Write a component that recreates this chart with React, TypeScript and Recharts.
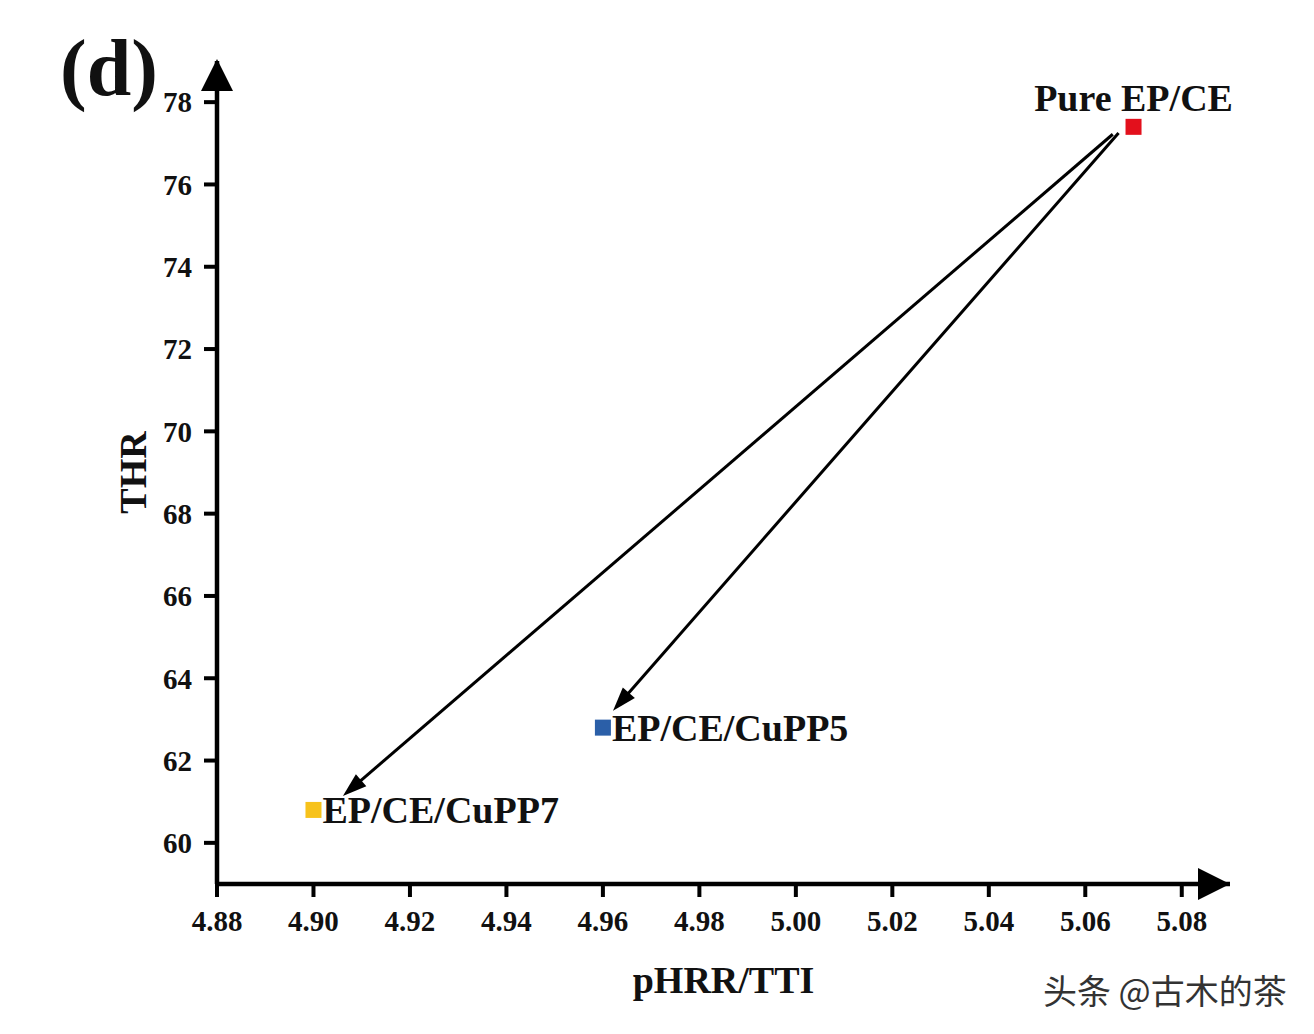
import React from "react";
import {
  Label,
  LabelList,
  ReferenceLine,
  Scatter,
  ScatterChart,
  XAxis,
  YAxis,
} from "recharts";

// sample points (pHRR/TTI vs THR)
const sampleNames = ["Pure EP/CE", "EP/CE/CuPP5", "EP/CE/CuPP7"];
const sampleX = [5.07, 4.96, 4.9];
const sampleY = [77.4, 62.8, 60.8];
const sampleColors = ["#e3101c", "#2b5fa8", "#f7c21b"];

const xTicks = [4.88, 4.9, 4.92, 4.94, 4.96, 4.98, 5.0, 5.02, 5.04, 5.06, 5.08];
const yTicks = [60, 62, 64, 66, 68, 70, 72, 74, 76, 78];

// annotation arrows, from Pure EP/CE to the two composites
const arrowFromX = [5.0657, 5.0669];
const arrowFromY = [77.22, 77.25];
const arrowToX = [4.9061, 4.9621];
const arrowToY = [61.14, 63.21];

const FONT = '"Liberation Serif", "Times New Roman", serif';

type ArrowProps = {
  x1?: number;
  y1?: number;
  x2?: number;
  y2?: number;
  headLen?: number;
  headHalf?: number;
  width?: number;
  onlyHead?: boolean;
};

function Arrow({ x1 = 0, y1 = 0, x2 = 0, y2 = 0, headLen = 24, headHalf = 8, width = 3, onlyHead }: ArrowProps) {
  const dx = x2 - x1;
  const dy = y2 - y1;
  const len = Math.hypot(dx, dy) || 1;
  const ux = dx / len;
  const uy = dy / len;
  const bx = x2 - ux * headLen;
  const by = y2 - uy * headLen;
  const px = -uy * headHalf;
  const py = ux * headHalf;
  return (
    <g>
      {!onlyHead && <line x1={x1} y1={y1} x2={bx + ux * 2} y2={by + uy * 2} stroke="#000" strokeWidth={width} />}
      <polygon points={`${x2},${y2} ${bx + px},${by + py} ${bx - px},${by - py}`} fill="#000" />
    </g>
  );
}

const squareShape = (color: string) => (p: any) => (
  <rect x={p.cx - 8} y={p.cy - 8} width={16} height={16} fill={color} />
);

export default function App() {
  const series = sampleNames.map((name, i) => ({
    name,
    data: [{ x: sampleX[i], y: sampleY[i], label: name }],
    color: sampleColors[i],
    top: i === 0,
  }));

  return (
    <div style={{ position: "relative", width: 1298, height: 1018, background: "#fff" }}>
      <ScatterChart
        width={1298}
        height={1018}
        margin={{ top: 53, right: 76, left: 129, bottom: 92 }}
      >
        <XAxis
          type="number"
          dataKey="x"
          domain={[4.88, 5.09]}
          ticks={xTicks}
          allowDataOverflow
          height={50}
          axisLine={{ stroke: "#000", strokeWidth: 4.5 }}
          tickLine={{ stroke: "#000", strokeWidth: 4 }}
          tickSize={13}
          tickMargin={13}
          tickFormatter={(v: number) => v.toFixed(2)}
          tick={{ fontFamily: FONT, fontSize: 29, fontWeight: 700, fill: "#111" }}
        >
          <Label
            content={(props: any) => {
              const vb = props.viewBox || {};
              return (
                <text
                  x={vb.x + vb.width / 2}
                  y={vb.y + 109}
                  textAnchor="middle"
                  fontFamily={FONT}
                  fontSize={38}
                  fontWeight={700}
                  fill="#111"
                >
                  pHRR/TTI
                </text>
              );
            }}
          />
        </XAxis>
        <YAxis
          type="number"
          dataKey="y"
          domain={[59, 79]}
          ticks={yTicks}
          allowDataOverflow
          width={80}
          axisLine={{ stroke: "#000", strokeWidth: 4.5 }}
          tickLine={{ stroke: "#000", strokeWidth: 4 }}
          tickSize={13}
          tickMargin={12}
          tick={{ fontFamily: FONT, fontSize: 29, fontWeight: 700, fill: "#111" }}
        >
          <Label
            content={(props: any) => {
              const vb = props.viewBox || {};
              const cx = vb.x - 4;
              const cy = vb.y + vb.height / 2;
              return (
                <text
                  x={cx}
                  y={cy}
                  transform={`rotate(-90 ${cx} ${cy})`}
                  textAnchor="middle"
                  dominantBaseline="central"
                  fontFamily={FONT}
                  fontSize={38}
                  fontWeight={700}
                  fill="#111"
                >
                  THR
                </text>
              );
            }}
          />
          <Label
            content={(props: any) => {
              const vb = props.viewBox || {};
              return (
                <text x={vb.x - 77} y={vb.y + 34} fontFamily={FONT} fontSize={80} fontWeight={700} fill="#111">
                  (d)
                </text>
              );
            }}
          />
        </YAxis>

        {/* axis arrowheads */}
        <ReferenceLine
          segment={[{ x: 5.0, y: 59 }, { x: 5.09, y: 59 }]}
          ifOverflow="visible"
          shape={(p: any) => <Arrow {...p} onlyHead headLen={32} headHalf={16} />}
        />
        <ReferenceLine
          segment={[{ x: 4.88, y: 70 }, { x: 4.88, y: 79.05 }]}
          ifOverflow="visible"
          shape={(p: any) => <Arrow {...p} onlyHead headLen={32} headHalf={16} />}
        />

        {arrowFromX.map((fx, i) => (
          <ReferenceLine
            key={`arrow-${i}`}
            segment={[
              { x: fx, y: arrowFromY[i] },
              { x: arrowToX[i], y: arrowToY[i] },
            ]}
            ifOverflow="visible"
            shape={(p: any) => <Arrow {...p} />}
          />
        ))}

        {series.map((s) => (
          <Scatter
            key={s.name}
            name={s.name}
            data={s.data}
            fill={s.color}
            shape={squareShape(s.color)}
            isAnimationActive={false}
          >
            <LabelList
              dataKey="label"
              content={(p: any) => {
                const cx = p.x + p.width / 2;
                const cy = p.y + p.height / 2;
                if (s.top) {
                  return (
                    <text x={cx} y={cy - 16} textAnchor="middle" fontFamily={FONT} fontSize={38} fontWeight={700} fill="#111">
                      {p.value}
                    </text>
                  );
                }
                return (
                  <text x={cx + 9} y={cy + 13} fontFamily={FONT} fontSize={38} fontWeight={700} fill="#111">
                    {p.value}
                  </text>
                );
              }}
            />
          </Scatter>
        ))}
      </ScatterChart>
      <div
        style={{
          position: "absolute",
          left: 1035,
          top: 957,
          fontFamily: '"Noto Sans CJK SC", sans-serif',
          fontSize: 34,
          color: "#333",
          whiteSpace: "nowrap",
          textShadow: "0 0 2px #fff",
        }}
      >
        头条 @古木的茶
      </div>
    </div>
  );
}
